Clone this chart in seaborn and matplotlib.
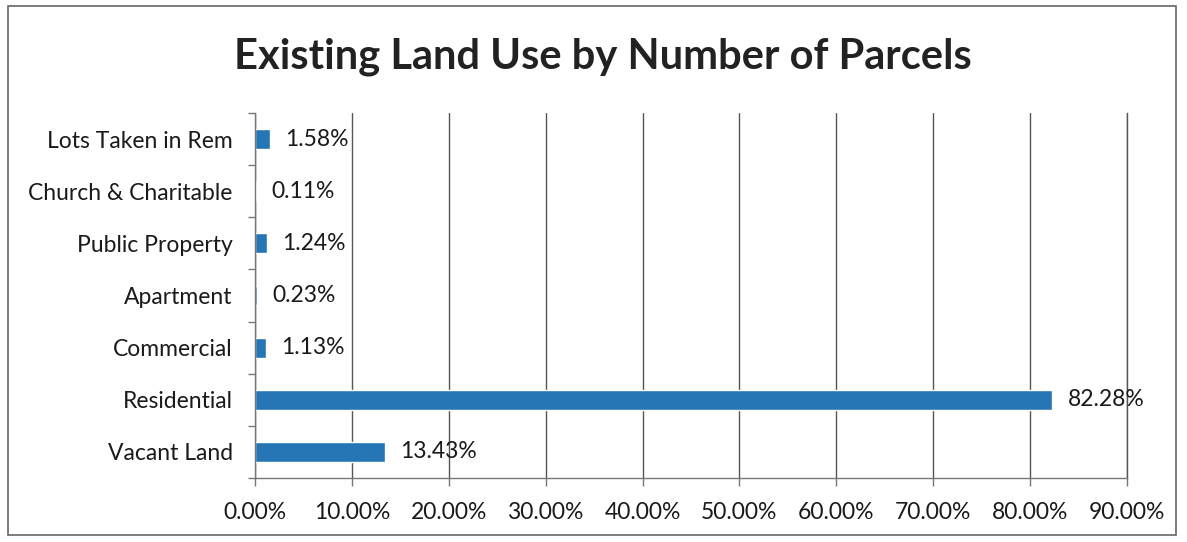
import matplotlib
matplotlib.use("Agg")
import matplotlib.pyplot as plt
import seaborn as sns
import pandas as pd
import numpy as np
from matplotlib.patches import Rectangle
from matplotlib.ticker import FuncFormatter, FixedLocator

categories = ["Lots Taken in Rem", "Church & Charitable", "Public Property",
              "Apartment", "Commercial", "Residential", "Vacant Land"]
values = [1.58, 0.11, 1.24, 0.23, 1.13, 82.28, 13.43]
value_labels = ["1.58%", "0.11%", "1.24%", "0.23%", "1.13%", "82.28%", "13.43%"]
x_ticks = [0, 10, 20, 30, 40, 50, 60, 70, 80, 90]

sns.set_theme(style="white")
plt.rcParams['font.family'] = ['Lato', 'DejaVu Sans']

df = pd.DataFrame({"cat": categories, "val": values})

fig = plt.figure(figsize=(11.87, 5.42), dpi=100)
ax = fig.add_axes([255/1187, 1-478/542, (1127-255)/1187, (478-113)/542])

sns.barplot(data=df, y="cat", x="val", orient="h", color="#2676b5",
            saturation=1, width=0.38, ax=ax)

for bar, lab in zip(ax.patches, value_labels):
    ax.annotate(lab, (bar.get_width(), bar.get_y() + bar.get_height()/2),
                xytext=(11, 0), textcoords="offset points",
                va="center", ha="left", fontsize=16.5, color="#1a1a1a")

ax.set_xlim(0, 90)
ax.set_ylim(len(categories)-0.5, -0.5)
ax.set_xticks(x_ticks)
ax.xaxis.set_major_formatter(FuncFormatter(lambda v, p: f"{v:.2f}%"))
ax.set_xlabel("")
ax.set_ylabel("")
ax.grid(axis="x", color="#555555", linewidth=1.0)
ax.set_axisbelow(True)
ax.spines["top"].set_visible(False)
ax.spines["right"].set_color("#555555")
ax.spines["right"].set_linewidth(1.0)
for s in ["left", "bottom"]:
    ax.spines[s].set_color("#777777")
    ax.spines[s].set_linewidth(1.0)

ax.yaxis.set_minor_locator(FixedLocator(np.arange(-0.5, len(categories), 1)))
ax.tick_params(axis="y", which="major", length=0, labelsize=16.5, pad=16, labelcolor="#1a1a1a")
ax.tick_params(axis="y", which="minor", left=True, length=5, width=1, color="#777777")
ax.tick_params(axis="x", which="major", bottom=True, length=6, width=1, color="#777777",
               labelsize=16.5, pad=11, labelcolor="#1a1a1a")

fig.text(603/1187, 1-57/542, "Existing Land Use by Number of Parcels", ha="center", va="center",
         fontsize=30, fontweight="bold", color="#222222")

fig.patches.append(Rectangle((8/1187, 1-535/542), (1176-8)/1187, (535-6)/542,
                             transform=fig.transFigure, fill=False,
                             edgecolor="#666666", linewidth=1.2))

fig.savefig("out.png", dpi=100, facecolor="white")
